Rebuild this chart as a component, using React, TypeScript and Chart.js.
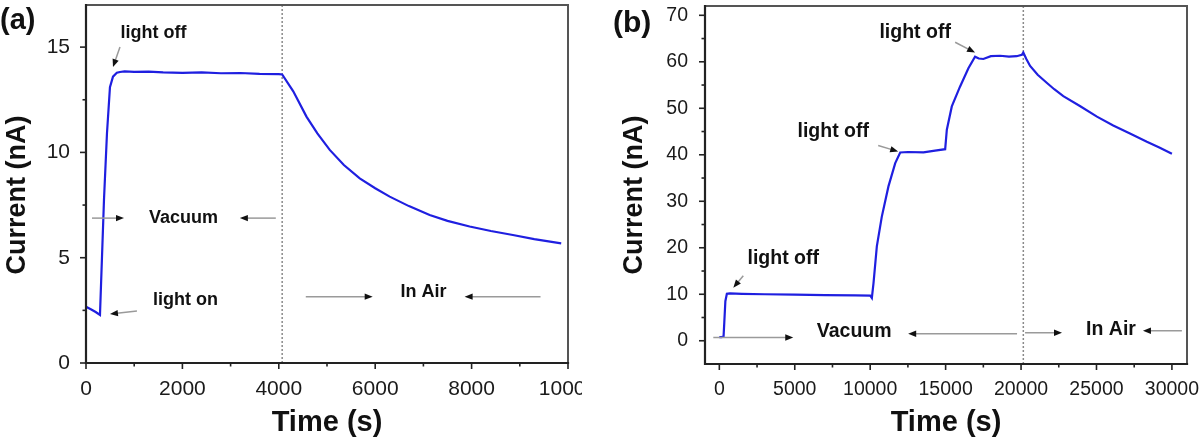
import React, { useEffect, useRef } from 'react';
import { Chart, registerables } from 'chart.js';
Chart.register(...registerables);

// ---------- Panel (a) data ----------
const timeA = [0, 100, 200, 290, 373, 435, 497, 560, 640, 705, 800, 1000, 1300, 1600, 2000, 2400, 2800, 3200, 3600, 4000, 4070, 4300, 4574, 4800, 5057, 5350, 5679, 6000, 6301, 6700, 7130, 7500, 7959, 8400, 8856, 9300, 9859];
const currentA = [2.67, 2.55, 2.42, 2.28, 7.74, 10.9, 13.1, 13.6, 13.78, 13.82, 13.85, 13.82, 13.84, 13.8, 13.78, 13.8, 13.76, 13.77, 13.73, 13.72, 13.7, 12.9, 11.7, 10.9, 10.12, 9.4, 8.77, 8.3, 7.9, 7.45, 7.03, 6.75, 6.48, 6.27, 6.08, 5.88, 5.68];
const xTicksA = [0, 2000, 4000, 6000, 8000, 10000];
const xMinorA = [1000, 3000, 5000, 7000, 9000];
const yTicksA = [0, 5, 10, 15];
const yMinorA = [2.5, 7.5, 12.5];
const boundaryA = 4070;
const textsA = [
  { text: 'light off', x: 1400, y: 15.66 },
  { text: 'light on', x: 2062, y: 2.99 },
  { text: 'Vacuum', x: 2021, y: 6.88 },
  { text: 'In Air', x: 7000, y: 3.37 },
];
const arrowsA = [
  { from: [705, 15.0], to: [560, 14.05] },
  { from: [1057, 2.47], to: [497, 2.33] },
  { from: [124, 6.88], to: [788, 6.88] },
  { from: [3938, 6.88], to: [3192, 6.88] },
  { from: [4560, 3.15], to: [5948, 3.15] },
  { from: [9430, 3.15], to: [7855, 3.15] },
];

// ---------- Panel (b) data ----------
const timeB = [0, 150, 280, 330, 400, 500, 700, 1500, 3000, 5000, 7000, 9000, 10000, 10110, 10220, 10440, 10770, 11210, 11660, 11990, 12500, 13530, 14300, 14970, 15080, 15410, 15960, 16510, 16950, 17200, 17500, 18000, 18610, 19200, 19710, 20050, 20150, 20350, 20600, 21100, 21700, 22200, 22800, 23900, 25030, 26110, 27220, 28340, 29200, 30000];
const currentB = [0.8, 0.8, 0.9, 4.0, 8.5, 10.1, 10.2, 10.1, 10.0, 9.9, 9.8, 9.75, 9.7, 9.2, 12.4, 20.3, 26.7, 33.2, 38.2, 40.5, 40.6, 40.5, 40.9, 41.2, 45.4, 50.4, 54.7, 58.6, 61.1, 60.7, 60.6, 61.2, 61.3, 61.1, 61.2, 61.5, 62.0, 60.6, 59.1, 57.2, 55.5, 54.1, 52.6, 50.5, 48.2, 46.3, 44.6, 42.8, 41.5, 40.2];
const xTicksB = [0, 5000, 10000, 15000, 20000, 25000, 30000];
const xMinorB = [2500, 7500, 12500, 17500, 22500, 27500];
const yTicksB = [0, 10, 20, 30, 40, 50, 60, 70];
const yMinorB = [5, 15, 25, 35, 45, 55, 65];
const boundaryB = 20150;
const textsB = [
  { text: 'light off', x: 4238, y: 17.6 },
  { text: 'light off', x: 7550, y: 45.0 },
  { text: 'light off', x: 12980, y: 66.3 },
  { text: 'Vacuum', x: 8940, y: 2.05 },
  { text: 'In Air', x: 25960, y: 2.37 },
];
const arrowsB = [
  { from: [1589, 14.0], to: [927, 11.4] },
  { from: [10530, 42.0], to: [11855, 40.7] },
  { from: [15630, 64.2], to: [16950, 62.0] },
  { from: [-400, 0.7], to: [4900, 0.7] },
  { from: [19735, 1.5], to: [12517, 1.5] },
  { from: [20265, 1.72], to: [22715, 1.72] },
  { from: [30660, 2.15], to: [28080, 2.15] },
];

const FONT = '"Liberation Sans", Arial, Helvetica, sans-serif';

const decorPlugin = {
  id: 'decor',
  beforeDatasetsDraw(chart: any) {
    const o = chart.options.plugins.decor;
    const { ctx, chartArea } = chart;
    const xs = chart.scales.x;
    const px = xs.getPixelForValue(o.boundary);
    ctx.save();
    ctx.strokeStyle = '#8a8a8a';
    ctx.lineWidth = 1.5;
    ctx.setLineDash([2, 2]);
    ctx.beginPath();
    ctx.moveTo(px, chartArea.top);
    ctx.lineTo(px, chartArea.bottom);
    ctx.stroke();
    ctx.restore();
  },
  afterDatasetsDraw(chart: any) {
    const o = chart.options.plugins.decor;
    const { ctx, chartArea } = chart;
    const xs = chart.scales.x;
    const ys = chart.scales.y;
    const { left, right, top, bottom } = chartArea;
    ctx.save();
    // frame
    ctx.lineCap = 'square';
    ctx.strokeStyle = '#555';
    ctx.lineWidth = 2;
    ctx.beginPath();
    ctx.moveTo(left, top);
    ctx.lineTo(right, top);
    ctx.lineTo(right, bottom);
    ctx.stroke();
    ctx.strokeStyle = '#222';
    ctx.lineWidth = 2.2;
    ctx.beginPath();
    ctx.moveTo(left, top);
    ctx.lineTo(left, bottom);
    ctx.lineTo(right, bottom);
    ctx.stroke();
    // ticks
    ctx.lineCap = 'butt';
    ctx.lineWidth = 1.6;
    ctx.strokeStyle = '#222';
    const tick = (vals: number[], len: number, axis: 'x' | 'y') => {
      vals.forEach((v) => {
        ctx.beginPath();
        if (axis === 'x') {
          const p = xs.getPixelForValue(v);
          ctx.moveTo(p, bottom);
          ctx.lineTo(p, bottom + len);
        } else {
          const p = ys.getPixelForValue(v);
          ctx.moveTo(left, p);
          ctx.lineTo(left - len, p);
        }
        ctx.stroke();
      });
    };
    tick(o.xMajor, 6, 'x');
    tick(o.xMinor, 3.5, 'x');
    tick(o.yMajor, 6, 'y');
    tick(o.yMinor, 3.5, 'y');
    // arrows
    o.arrows.forEach((a: any) => {
      const x1 = xs.getPixelForValue(a.from[0]);
      const y1 = ys.getPixelForValue(a.from[1]);
      const x2 = xs.getPixelForValue(a.to[0]);
      const y2 = ys.getPixelForValue(a.to[1]);
      const ang = Math.atan2(y2 - y1, x2 - x1);
      const hl = 8;
      const hw = 3.2;
      ctx.strokeStyle = '#9a9a9a';
      ctx.lineWidth = 1.5;
      ctx.beginPath();
      ctx.moveTo(x1, y1);
      ctx.lineTo(x2 - Math.cos(ang) * hl * 0.6, y2 - Math.sin(ang) * hl * 0.6);
      ctx.stroke();
      ctx.fillStyle = '#111';
      ctx.beginPath();
      ctx.moveTo(x2, y2);
      ctx.lineTo(x2 - Math.cos(ang) * hl - Math.sin(ang) * hw, y2 - Math.sin(ang) * hl + Math.cos(ang) * hw);
      ctx.lineTo(x2 - Math.cos(ang) * hl + Math.sin(ang) * hw, y2 - Math.sin(ang) * hl - Math.cos(ang) * hw);
      ctx.closePath();
      ctx.fill();
    });
    // annotation texts
    ctx.fillStyle = '#111';
    ctx.font = `bold ${o.textSize}px ${FONT}`;
    ctx.textAlign = 'center';
    ctx.textBaseline = 'middle';
    o.texts.forEach((t: any) => {
      ctx.fillText(t.text, xs.getPixelForValue(t.x), ys.getPixelForValue(t.y));
    });
    // panel label
    ctx.font = `bold ${o.labelSize}px ${FONT}`;
    ctx.textAlign = 'left';
    ctx.fillText(o.label, o.labelX, o.labelY);
    // y title
    ctx.font = `bold 27px ${FONT}`;
    ctx.textAlign = 'center';
    ctx.textBaseline = 'alphabetic';
    ctx.translate(o.yTitleX, o.yTitleY);
    ctx.rotate(-Math.PI / 2);
    ctx.fillText('Current (nA)', 0, 0);
    ctx.restore();
  },
};

function makeConfig(p: any) {
  return {
    type: 'scatter',
    data: {
      datasets: [
        {
          data: p.time.map((t: number, i: number) => ({ x: t, y: p.current[i] })),
          showLine: true,
          borderColor: '#1f1fe0',
          borderWidth: 2.2,
          pointRadius: 0,
          tension: 0,
        },
      ],
    },
    options: {
      animation: false,
      responsive: false,
      devicePixelRatio: 1,
      layout: { autoPadding: false, padding: p.padding },
      plugins: {
        legend: { display: false },
        tooltip: { enabled: false },
        decor: p.decor,
      },
      scales: {
        x: {
          type: 'linear',
          min: p.xMin,
          max: p.xMax,
          grid: { display: false, drawTicks: false },
          border: { display: false },
          ticks: {
            font: { family: FONT, size: p.tickSize },
            color: '#1a1a1a',
            padding: 14,
            maxRotation: 0,
            autoSkip: false,
            callback: (v: number) => String(v),
          },
          afterBuildTicks: (s: any) => {
            s.ticks = p.xTicks.map((v: number) => ({ value: v }));
          },
          afterFit: (s: any) => {
            s.height = p.xHeight;
            s.paddingLeft = 0;
            s.paddingRight = 0;
          },
          title: {
            display: true,
            text: 'Time (s)',
            color: '#111',
            font: { family: FONT, size: 29, weight: 'bold' },
            padding: { top: 0, bottom: 5 },
          },
        },
        y: {
          type: 'linear',
          min: p.yMin,
          max: p.yMax,
          grid: { display: false, drawTicks: false },
          border: { display: false },
          ticks: {
            font: { family: FONT, size: p.tickSize },
            color: '#1a1a1a',
            padding: p.yPad,
            autoSkip: false,
            callback: (v: number) => String(v),
          },
          afterBuildTicks: (s: any) => {
            s.ticks = p.yTicks.map((v: number) => ({ value: v }));
          },
          afterFit: (s: any) => {
            s.width = p.yWidth;
            s.paddingTop = 0;
            s.paddingBottom = 0;
          },
        },
      },
    },
    plugins: [decorPlugin],
  };
}

export default function App() {
  const refA = useRef<HTMLCanvasElement>(null);
  const refB = useRef<HTMLCanvasElement>(null);
  useEffect(() => {
    const a = new Chart(
      refA.current as HTMLCanvasElement,
      makeConfig({
        time: timeA,
        current: currentA,
        xMin: 0,
        xMax: 10000,
        yMin: 0,
        yMax: 17,
        xTicks: xTicksA,
        yTicks: yTicksA,
        tickSize: 21,
        yPad: 16,
        yWidth: 86,
        xHeight: 82,
        padding: { left: 0, top: 5, right: 14, bottom: 0 },
        decor: {
          boundary: boundaryA,
          xMajor: xTicksA,
          xMinor: xMinorA,
          yMajor: yTicksA,
          yMinor: yMinorA,
          texts: textsA,
          arrows: arrowsA,
          textSize: 18,
          label: '(a)',
          labelSize: 29,
          labelX: 0,
          labelY: 21,
          yTitleX: 24.5,
          yTitleY: 195,
        },
      }) as any
    );
    const b = new Chart(
      refB.current as HTMLCanvasElement,
      makeConfig({
        time: timeB,
        current: currentB,
        xMin: -950,
        xMax: 31000,
        yMin: -5,
        yMax: 72,
        xTicks: xTicksB,
        yTicks: yTicksB,
        tickSize: 19.5,
        yPad: 17,
        yWidth: 123,
        xHeight: 81,
        padding: { left: 0, top: 6, right: 13, bottom: 0 },
        decor: {
          boundary: boundaryB,
          xMajor: xTicksB,
          xMinor: xMinorB,
          yMajor: yTicksB,
          yMinor: yMinorB,
          texts: textsB,
          arrows: arrowsB,
          textSize: 19.5,
          label: '(b)',
          labelSize: 30,
          labelX: 31,
          labelY: 24,
          yTitleX: 60,
          yTitleY: 195,
        },
      }) as any
    );
    return () => {
      a.destroy();
      b.destroy();
    };
  }, []);
  return (
    <div style={{ position: 'absolute', left: 0, top: 0, width: 1200, height: 445, background: '#fff', overflow: 'hidden' }}>
      <canvas ref={refA} width={582} height={445} style={{ position: 'absolute', left: 0, top: 0, width: 582, height: 445 }} />
      <canvas ref={refB} width={618} height={445} style={{ position: 'absolute', left: 582, top: 0, width: 618, height: 445 }} />
    </div>
  );
}
